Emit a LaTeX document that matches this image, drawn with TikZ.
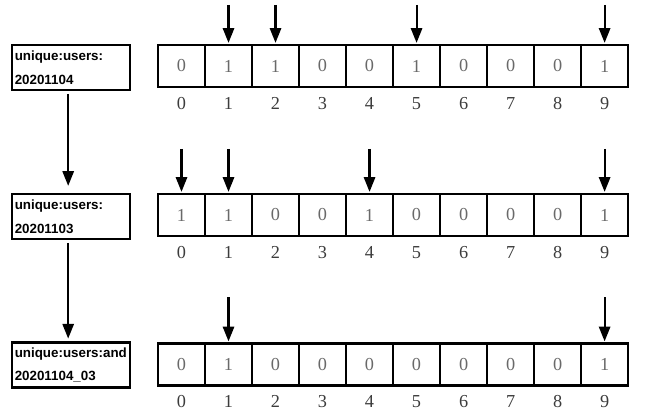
\documentclass[tikz,border=0pt]{standalone}
\usepackage{fontspec}
\newfontfamily\keyfont{Liberation Sans}
\newfontfamily\numfont{Liberation Serif}
\usetikzlibrary{positioning}
\usetikzlibrary {arrows.meta}
\definecolor{bitgray}{RGB}{105,105,105}
\definecolor{idxgray}{RGB}{60,60,60}
\tikzset{bitcell/.style={rectangle,draw=black,line width=1.5pt,fill=white,
outer sep=0pt,minimum height=1.05cm, minimum width=1.175cm,
font=\numfont\fontsize{13}{15}\selectfont,text=bitgray}}
\tikzset{bitindex/.style={rectangle,draw=none,
inner sep=1pt,font=\numfont\fontsize{13}{15}\selectfont,text=idxgray}}
\tikzset{bitkey/.style={rectangle,draw=black,line width=1.5pt,fill=white,
inner xsep=2pt,inner ysep=2pt,minimum height=1.125cm, text width=2.81cm,align=left,
font=\keyfont\bfseries\fontsize{9.5}{17}\selectfont}}
\tikzset{bitptr/.style={line width=1.5pt,-{Triangle[length=10.5pt,width=8pt]}}}

\begin{document}
\begin{tikzpicture}[x=0.025cm,y=-0.025cm]
        \useasboundingbox (0,0) rectangle (646,413);

        % keys
        \node[bitkey] (keyA) at (71,67.5) {unique:users:\\20201104};
        \node[bitkey] (keyB) at (71,216.5) {unique:users:\\20201103};
        \node[bitkey] (keyC) at (71,365) {unique:users:and\\20201104\_03};

        \draw [bitptr,shorten <=2pt,shorten >=5pt] ([xshift=-2pt]keyA.south) -- ([xshift=-2pt]keyB.north);
        \draw [bitptr,shorten <=2pt,shorten >=2pt] ([xshift=-2pt]keyB.south) -- ([xshift=-2pt]keyC.north);

        % first bitmap
        \node[bitcell] (cellA0) at (181.5,66) {0};
        \node[bitcell] (cellA1) [right=0pt of cellA0] {1};
        \node[bitcell] (cellA2) [right=0pt of cellA1] {1};
        \node[bitcell] (cellA3) [right=0pt of cellA2] {0};
        \node[bitcell] (cellA4) [right=0pt of cellA3] {0};
        \node[bitcell] (cellA5) [right=0pt of cellA4] {1};
        \node[bitcell] (cellA6) [right=0pt of cellA5] {0};
        \node[bitcell] (cellA7) [right=0pt of cellA6] {0};
        \node[bitcell] (cellA8) [right=0pt of cellA7] {0};
        \node[bitcell] (cellA9) [right=0pt of cellA8] {1};

        \node[bitindex] (idxA0) [below=6pt of cellA0] {0};
        \node[bitindex] (idxA1) [below=6pt of cellA1] {1};
        \node[bitindex] (idxA2) [below=6pt of cellA2] {2};
        \node[bitindex] (idxA3) [below=6pt of cellA3] {3};
        \node[bitindex] (idxA4) [below=6pt of cellA4] {4};
        \node[bitindex] (idxA5) [below=6pt of cellA5] {5};
        \node[bitindex] (idxA6) [below=6pt of cellA6] {6};
        \node[bitindex] (idxA7) [below=6pt of cellA7] {7};
        \node[bitindex] (idxA8) [below=6pt of cellA8] {8};
        \node[bitindex] (idxA9) [below=6pt of cellA9] {9};

        \draw [bitptr,shorten >=1.5pt] ([yshift=1cm]cellA1.north) -- (cellA1.north);
        \draw [bitptr,shorten >=1.5pt] ([yshift=1cm]cellA2.north) -- (cellA2.north);
        \draw [bitptr,shorten >=1.5pt] ([yshift=1cm]cellA5.north) -- (cellA5.north);
        \draw [bitptr,shorten >=1.5pt] ([yshift=1cm]cellA9.north) -- (cellA9.north);

        % second bitmap
        \node[bitcell] (cellB0) at (181.5,215) {1};
        \node[bitcell] (cellB1) [right=0pt of cellB0] {1};
        \node[bitcell] (cellB2) [right=0pt of cellB1] {0};
        \node[bitcell] (cellB3) [right=0pt of cellB2] {0};
        \node[bitcell] (cellB4) [right=0pt of cellB3] {1};
        \node[bitcell] (cellB5) [right=0pt of cellB4] {0};
        \node[bitcell] (cellB6) [right=0pt of cellB5] {0};
        \node[bitcell] (cellB7) [right=0pt of cellB6] {0};
        \node[bitcell] (cellB8) [right=0pt of cellB7] {0};
        \node[bitcell] (cellB9) [right=0pt of cellB8] {1};

        \node[bitindex] (idxB0) [below=6pt of cellB0] {0};
        \node[bitindex] (idxB1) [below=6pt of cellB1] {1};
        \node[bitindex] (idxB2) [below=6pt of cellB2] {2};
        \node[bitindex] (idxB3) [below=6pt of cellB3] {3};
        \node[bitindex] (idxB4) [below=6pt of cellB4] {4};
        \node[bitindex] (idxB5) [below=6pt of cellB5] {5};
        \node[bitindex] (idxB6) [below=6pt of cellB6] {6};
        \node[bitindex] (idxB7) [below=6pt of cellB7] {7};
        \node[bitindex] (idxB8) [below=6pt of cellB8] {8};
        \node[bitindex] (idxB9) [below=6pt of cellB9] {9};

        \draw [bitptr,shorten >=1.5pt] ([yshift=1.125cm]cellB0.north) -- (cellB0.north);
        \draw [bitptr,shorten >=1.5pt] ([yshift=1.125cm]cellB1.north) -- (cellB1.north);
        \draw [bitptr,shorten >=1.5pt] ([yshift=1.125cm]cellB4.north) -- (cellB4.north);
        \draw [bitptr,shorten >=1.5pt] ([yshift=1.125cm]cellB9.north) -- (cellB9.north);

        % result of and
        \node[bitcell] (cellC0) at (181.5,364.5) {0};
        \node[bitcell] (cellC1) [right=0pt of cellC0] {1};
        \node[bitcell] (cellC2) [right=0pt of cellC1] {0};
        \node[bitcell] (cellC3) [right=0pt of cellC2] {0};
        \node[bitcell] (cellC4) [right=0pt of cellC3] {0};
        \node[bitcell] (cellC5) [right=0pt of cellC4] {0};
        \node[bitcell] (cellC6) [right=0pt of cellC5] {0};
        \node[bitcell] (cellC7) [right=0pt of cellC6] {0};
        \node[bitcell] (cellC8) [right=0pt of cellC7] {0};
        \node[bitcell] (cellC9) [right=0pt of cellC8] {1};

        \node[bitindex] (idxC0) [below=6pt of cellC0] {0};
        \node[bitindex] (idxC1) [below=6pt of cellC1] {1};
        \node[bitindex] (idxC2) [below=6pt of cellC2] {2};
        \node[bitindex] (idxC3) [below=6pt of cellC3] {3};
        \node[bitindex] (idxC4) [below=6pt of cellC4] {4};
        \node[bitindex] (idxC5) [below=6pt of cellC5] {5};
        \node[bitindex] (idxC6) [below=6pt of cellC6] {6};
        \node[bitindex] (idxC7) [below=6pt of cellC7] {7};
        \node[bitindex] (idxC8) [below=6pt of cellC8] {8};
        \node[bitindex] (idxC9) [below=6pt of cellC9] {9};

        \draw [bitptr,shorten >=1.5pt] ([yshift=1.15cm]cellC1.north) -- (cellC1.north);
        \draw [bitptr,shorten >=1.5pt] ([yshift=1.15cm]cellC9.north) -- (cellC9.north);

    \end{tikzpicture}
\end{document}
